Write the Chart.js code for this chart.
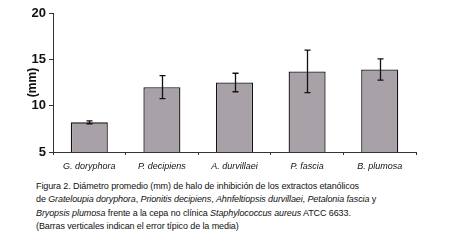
<!DOCTYPE html>
<html>
<head>
<meta charset="utf-8">
<script src="https://cdn.jsdelivr.net/npm/chart.js@4.4.0/dist/chart.umd.min.js"></script>
<style>
  body { margin: 0; background: #fff; width: 450px; height: 250px; overflow: hidden; position: relative; }
  #wrap { position: absolute; left: 0; top: 0; width: 450px; height: 175px; }
  #caption {
    position: absolute; left: 36px; top: 180px;
    font-family: "Liberation Sans", Arial, sans-serif; font-size: 9px; line-height: 13.3px;
    letter-spacing: -0.1px; color: #111; white-space: nowrap;
  }
</style>
</head>
<body>
<div id="wrap"><canvas id="chart" width="450" height="175"></canvas></div>
<div id="caption">
Figura 2. Diámetro promedio (mm) de halo de inhibición de los extractos etanólicos<br>
de <i>Grateloupia doryphora</i>, <i>Prionitis decipiens</i>, <i>Ahnfeltiopsis durvillaei</i>, <i>Petalonia fascia</i> y<br>
<i>Bryopsis plumosa</i> frente a la cepa no clínica <i>Staphylococcus aureus</i> ATCC 6633.<br>
(Barras verticales indican el error típico de la media)
</div>
<script>
  // data
  let species = ["G. doryphora", "P. decipiens", "A. durvillaei", "P. fascia", "B. plumosa"];
  let means = [8.2, 12.0, 12.5, 13.7, 13.9];
  let errors = [0.15, 1.25, 1.0, 2.3, 1.15];
  let yTicks = [5, 10, 15, 20];

  // error bars drawn on top of bars using the chart scales
  let errorBarPlugin = {
    id: "errorBars",
    afterDatasetsDraw(chart) {
      let ctx = chart.ctx;
      let xScale = chart.scales.x;
      let yScale = chart.scales.y;
      ctx.save();
      ctx.strokeStyle = "#111";
      ctx.lineWidth = 1.3;
      for (let i = 0; i < means.length; i++) {
        let x = Math.round(xScale.getPixelForValue(i)) + 0.5;
        let top = yScale.getPixelForValue(means[i] + errors[i]);
        let bottom = yScale.getPixelForValue(means[i] - errors[i]);
        ctx.beginPath();
        ctx.moveTo(x, top);
        ctx.lineTo(x, bottom);
        ctx.moveTo(x - 3, top);
        ctx.lineTo(x + 3, top);
        ctx.moveTo(x - 3, bottom);
        ctx.lineTo(x + 3, bottom);
        ctx.stroke();
      }
      ctx.restore();
    }
  };

  let chart = new Chart(document.getElementById("chart"), {
    type: "bar",
    data: {
      labels: species,
      datasets: [{
        data: means,
        backgroundColor: "#a8a2a8",
        borderColor: "#111",
        borderWidth: 1.3,
        barPercentage: 1,
        categoryPercentage: 0.51
      }]
    },
    options: {
      responsive: false,
      animation: false,
      layout: { padding: { left: 0, right: 34, top: 13, bottom: 0 } },
      plugins: {
        legend: { display: false },
        tooltip: { enabled: false }
      },
      scales: {
        x: {
          grid: { offset: true, drawOnChartArea: false, drawTicks: true, tickLength: 3, color: "#333" },
          border: { color: "#333", width: 1 },
          ticks: {
            color: "#111",
            font: { family: "Liberation Sans, Arial", size: 9, style: "italic" },
            padding: 6,
            maxRotation: 0
          },
          afterFit(scale) { scale.height = 23; }
        },
        y: {
          min: 5,
          max: 20,
          afterBuildTicks(scale) { scale.ticks = yTicks.map(v => ({ value: v })); },
          grid: { drawOnChartArea: false, drawTicks: true, tickLength: 4, color: "#333" },
          border: { color: "#333", width: 1 },
          ticks: {
            color: "#111",
            font: { family: "Liberation Sans Narrow, Liberation Sans, Arial", size: 13, weight: "bold" },
            padding: 3
          },
          title: {
            display: true,
            text: "(mm)",
            color: "#111",
            font: { family: "Liberation Sans Narrow, Liberation Sans, Arial", size: 12, weight: "bold" },
            padding: { top: 25, bottom: 0 }
          },
          afterFit(scale) { scale.width = 53; }
        }
      }
    },
    plugins: [errorBarPlugin]
  });
</script>
</body>
</html>
